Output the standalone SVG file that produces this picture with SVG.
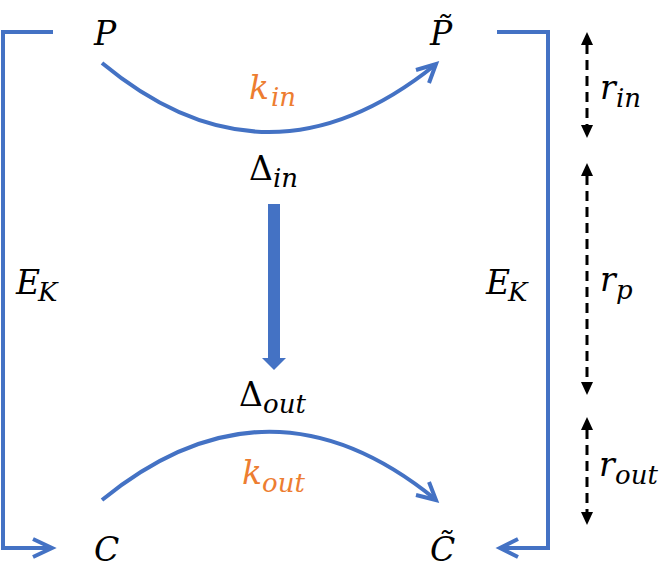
<svg xmlns="http://www.w3.org/2000/svg" width="669" height="576" viewBox="0 0 669 576">
<style>
text{font-family:'DejaVu Serif',serif;font-style:italic;font-size:33px;fill:#000}
.s{font-size:26px}
.up{font-style:normal}
.or{fill:#ED7D31}
.bl{fill:none;stroke:#4472C4;stroke-width:4}
.dash{fill:none;stroke:#000;stroke-width:3;stroke-dasharray:10 6}
.hd{fill:#000}
</style>
<rect width="669" height="576" fill="#fff"/>
<g id="connectors">
  <polyline class="bl" points="53,32 3,32 3,548 51,548"/>
  <polyline class="bl" points="33,539 52,548 33,557"/>
  <polyline class="bl" points="497,32 548,32 548,548 501,548"/>
  <polyline class="bl" points="518,539 500,548 518,557"/>
  <path class="bl" d="M102,63 Q267,200 435,65"/>
  <polyline class="bl" points="416,70 436,64 429,83"/>
  <path class="bl" d="M102,500 Q269,364 435,499"/>
  <polyline class="bl" points="416,495 436,500 429,482"/>
  <rect x="268" y="204" width="12" height="155" fill="#4472C4"/>
  <polygon points="262,358 286,358 274,370" fill="#4472C4"/>
  <line class="dash" x1="587" y1="44" x2="587" y2="127"/>
  <polygon class="hd" points="587,32 581,45 593,45"/>
  <polygon class="hd" points="587,138 581,125 593,125"/>
  <line class="dash" x1="587" y1="175" x2="587" y2="384"/>
  <polygon class="hd" points="587,163 581,176 593,176"/>
  <polygon class="hd" points="587,395 581,382 593,382"/>
  <line class="dash" x1="587" y1="429" x2="587" y2="514"/>
  <polygon class="hd" points="587,417 581,430 593,430"/>
  <polygon class="hd" points="587,525 581,512 593,512"/>
</g>
<g id="P"><text x="94" y="45">P</text></g>
<g id="Ptilde"><text x="430" y="45">P̃</text></g>
<g id="C"><text x="94" y="561">C</text></g>
<g id="Ctilde"><text x="430" y="561">C̃</text></g>
<g id="kin"><text class="or" x="249" y="99">k<tspan class="s" x="271" y="106">in</tspan></text></g>
<g id="Din"><text x="249" y="180"><tspan class="up">Δ</tspan><tspan class="s" x="273" y="187">in</tspan></text></g>
<g id="Dout"><text x="239" y="406"><tspan class="up">Δ</tspan><tspan class="s" x="263" y="413">out</tspan></text></g>
<g id="kout"><text class="or" x="242" y="484">k<tspan class="s" x="262" y="492">out</tspan></text></g>
<g id="EKleft"><text x="16" y="294">E<tspan class="s" x="38" y="301">K</tspan></text></g>
<g id="EKright"><text x="486" y="294">E<tspan class="s" x="508" y="301">K</tspan></text></g>
<g id="rin"><text x="600" y="99">r<tspan class="s" x="616" y="107">in</tspan></text></g>
<g id="rp"><text x="600" y="291">r<tspan class="s" x="616" y="299">p</tspan></text></g>
<g id="rout"><text x="599" y="476">r<tspan class="s" x="615" y="484">out</tspan></text></g>
</svg>
